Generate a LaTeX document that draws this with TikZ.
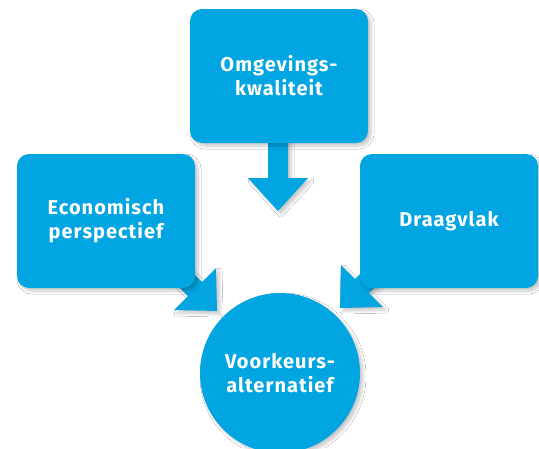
\documentclass[tikz,border=0pt]{standalone}
\usepackage{fontspec}
\setmainfont{Fira Sans}[LetterSpace=5]
\usetikzlibrary{shadows.blur}
\definecolor{boxblue}{RGB}{0,165,226}
\begin{document}
\begin{tikzpicture}[x=1pt,y=-1pt,
  softshadow/.style={blur shadow={shadow xshift=3pt,shadow yshift=-3pt,shadow blur steps=8,shadow blur radius=3pt,shadow opacity=22}},
  box/.style={fill=boxblue, rounded corners=12pt, minimum width=178pt, minimum height=134pt,
    text=white, font=\bfseries\fontsize{20}{24}\selectfont, align=center, inner sep=0pt, softshadow},
  roundbox/.style={circle, fill=boxblue, minimum size=160pt, inner sep=0pt,
    text=white, font=\bfseries\fontsize{20}{24}\selectfont, align=center, softshadow},
  blockarrow/.style={fill=boxblue, softshadow}]
\useasboundingbox[fill=white] (0,0) rectangle (539,448);
% arrows (behind the boxes)
\fill[blockarrow] (268,120) -- (288,120) -- (288,178) -- (308,178) -- (278,211) -- (248,178) -- (268,178) -- cycle;
\fill[blockarrow] (174,254) -- (202,282) -- (216,268) -- (217,311) -- (174,310) -- (188,296) -- (160,268) -- cycle;
\fill[blockarrow] (383,251) -- (355,279) -- (341,265) -- (340,308) -- (383,307) -- (369,293) -- (397,265) -- cycle;
% boxes
\node[box] (omg) at (279,76) {Omgevings-\\kwaliteit};
\node[box] (eco) at (106,221) {Economisch\\perspectief};
\node[box] (dra) at (449,221) {Draagvlak};
\node[roundbox] (voo) at (280,373) {Voorkeurs-\\alternatief};
\end{tikzpicture}
\end{document}
